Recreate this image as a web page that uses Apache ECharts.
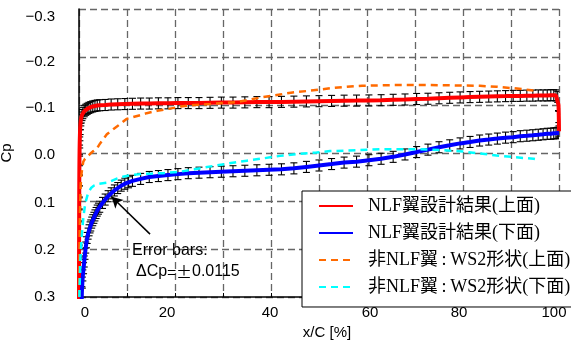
<!DOCTYPE html>
<html>
<head>
<meta charset="utf-8">
<script src="https://cdn.jsdelivr.net/npm/echarts@6/dist/echarts.min.js"></script>
<style>
html,body{margin:0;padding:0;background:#fff;}
#c{width:571px;height:345px;}
</style>
</head>
<body>
<div id="c"></div>
<script>
// ---- data (x/C [%], Cp) ----
const seriesNames = ['NLF翼設計結果(上面)', 'NLF翼設計結果(下面)', '非NLF翼\u2009:\u2009WS2形状(上面)', '非NLF翼\u2009:\u2009WS2形状(下面)'];
const errorHalf = 0.0115;
const xTicks = [0, 20, 40, 60, 80, 100];
const yTicks = [-0.3, -0.2, -0.1, 0.0, 0.1, 0.2, 0.3];

const nlfUpperX = [0, 0.002, 0.004, 0.007, 0.01, 0.014, 0.019, 0.025, 0.032, 0.04, 0.05, 0.062, 0.077, 0.095, 0.12, 0.15, 0.19, 0.24, 0.3, 0.38, 0.48, 0.616, 0.8, 1.093, 1.4, 1.704, 2.05, 2.447, 2.87, 3.321, 3.8, 4.323, 5.45, 6.699, 8.066, 9.549, 11.14, 12.84, 14.64, 16.54, 18.53, 20.61, 22.77, 25, 27.3, 29.66, 32.08, 34.55, 37.06, 39.6, 42.18, 44.77, 47.38, 50, 52.62, 55.23, 57.82, 60.4, 62.94, 65.45, 67.92, 70.34, 72.7, 75, 77.23, 79.39, 81.47, 83.46, 85.36, 87.16, 88.86, 90.45, 91.93, 93.3, 94.55, 95.68, 96.68, 97.55, 98.3, 98.91, 99.38, 99.73, 99.9, 99.96, 100];
const nlfUpperCp = [0.40, 0.31, 0.28, 0.255, 0.23, 0.205, 0.18, 0.155, 0.13, 0.105, 0.08, 0.057, 0.035, 0.015, -0.005, -0.022, -0.037, -0.05, -0.06, -0.068, -0.074, -0.079, -0.083, -0.087, -0.09, -0.092, -0.094, -0.0955, -0.097, -0.098, -0.099, -0.0995, -0.1, -0.101, -0.1015, -0.102, -0.1025, -0.103, -0.103, -0.1035, -0.1035, -0.104, -0.104, -0.104, -0.1045, -0.105, -0.105, -0.1055, -0.106, -0.106, -0.1065, -0.107, -0.1075, -0.108, -0.1085, -0.109, -0.1092, -0.1095, -0.11, -0.1108, -0.1115, -0.1125, -0.113, -0.114, -0.115, -0.1158, -0.1165, -0.117, -0.1175, -0.118, -0.1185, -0.119, -0.119, -0.1195, -0.1195, -0.12, -0.12, -0.12, -0.1205, -0.1205, -0.12, -0.117, -0.1, -0.075, -0.045];

const nlfLowerX = [0.01, 0.05, 0.1, 0.2, 0.3, 0.4, 0.5, 0.6, 0.7, 0.8, 0.95, 1.093, 1.25, 1.4, 1.55, 1.704, 1.9, 2.1, 2.3, 2.447, 2.65, 2.87, 3.1, 3.321, 3.56, 3.8, 4.05, 4.323, 4.9, 5.45, 6.07, 6.699, 7.37, 8.066, 8.8, 9.549, 10.33, 11.14, 12.84, 14.64, 16.54, 18.53, 20.61, 22.77, 25, 27.3, 29.66, 32.08, 34.55, 37.06, 39.6, 42.18, 44.77, 47.38, 50, 52.62, 55.23, 57.82, 60.4, 62.94, 65.45, 67.92, 70.34, 72.7, 75, 77.23, 79.39, 81.47, 83.46, 85.36, 87.16, 88.86, 90.45, 91.93, 93.3, 94.55, 95.68, 96.68, 97.55, 98.3, 98.91, 99.38, 99.73, 100];
const nlfLowerCp = [0.9, 0.7, 0.6, 0.48, 0.42, 0.37, 0.33, 0.29, 0.27, 0.255, 0.24, 0.226, 0.21, 0.197, 0.186, 0.177, 0.168, 0.161, 0.155, 0.151, 0.145, 0.14, 0.135, 0.13, 0.125, 0.12, 0.116, 0.112, 0.104, 0.097, 0.09, 0.084, 0.078, 0.073, 0.068, 0.064, 0.061, 0.058, 0.054, 0.05, 0.048, 0.046, 0.044, 0.042, 0.041, 0.04, 0.039, 0.038, 0.037, 0.036, 0.035, 0.034, 0.032, 0.029, 0.026, 0.023, 0.02, 0.018, 0.015, 0.012, 0.008, 0.003, -0.002, -0.007, -0.012, -0.016, -0.02, -0.023, -0.026, -0.028, -0.03, -0.032, -0.033, -0.035, -0.036, -0.037, -0.038, -0.039, -0.04, -0.04, -0.041, -0.041, -0.042, -0.042];

const ws2UpperX = [0, 0.05, 0.1, 0.2, 0.35, 0.5, 0.7, 0.9, 1.25, 1.9, 2.4, 3.0, 3.7, 4.4, 5.8, 7.2, 7.9, 9.9, 12.8, 14.1, 16.3, 19.8, 21.2, 24, 27.3, 30, 32.8, 35, 38, 41.9, 44.5, 47.4, 50, 52.5, 55.8, 59, 62.7, 66, 69.6, 73, 76.6, 80, 83.5, 87, 90.5, 92.5, 94.7, 95.5];
const ws2UpperCp = [0.4, 0.28, 0.2, 0.12, 0.067, 0.045, 0.03, 0.018, 0.012, 0.006, 0.001, -0.004, -0.009, -0.02, -0.039, -0.05, -0.055, -0.071, -0.079, -0.083, -0.088, -0.094, -0.097, -0.1, -0.102, -0.104, -0.106, -0.11, -0.116, -0.122, -0.126, -0.129, -0.132, -0.135, -0.138, -0.14, -0.141, -0.1415, -0.1415, -0.1415, -0.141, -0.1405, -0.14, -0.138, -0.135, -0.133, -0.13, -0.129];

const ws2LowerX = [0, 0.1, 0.3, 0.55, 0.9, 1.3, 1.9, 2.5, 3.1, 4.2, 5.8, 6.6, 8, 9.4, 11, 12.8, 15, 17.5, 19.8, 21, 24, 28, 31, 35, 38.5, 41.9, 45.5, 49.5, 52.3, 55.8, 60.6, 62.7, 67, 71, 75.5, 80, 83.5, 87, 91, 94.7, 95.2];
const ws2LowerCp = [0.35, 0.29, 0.22, 0.175, 0.135, 0.105, 0.083, 0.073, 0.068, 0.064, 0.062, 0.059, 0.053, 0.049, 0.046, 0.044, 0.043, 0.042, 0.04, 0.039, 0.034, 0.027, 0.022, 0.016, 0.011, 0.006, 0.002, -0.001, -0.004, -0.005, -0.007, -0.0077, -0.008, -0.0077, -0.006, -0.003, 0.001, 0.005, 0.009, 0.012, 0.013];

const arrowFrom = [14.8, 0.169];
const arrowTo = [6.8, 0.091];

// ---- build ----
const zip = (xs, ys) => xs.map((x, i) => [x, ys[i]]);
const upperData = zip(nlfUpperX, nlfUpperCp);
const lowerData = zip(nlfLowerX, nlfLowerCp);

function renderErr(params, api) {
  const x = api.value(0), y = api.value(1);
  const c = api.coord([x, y]);
  const t = api.coord([x, y - errorHalf]);
  const b = api.coord([x, y + errorHalf]);
  const w = 3.5;
  const st = { stroke: '#000', lineWidth: 1.1 };
  return {
    type: 'group',
    children: [
      { type: 'line', shape: { x1: c[0], y1: t[1], x2: c[0], y2: b[1] }, style: st },
      { type: 'line', shape: { x1: c[0] - w, y1: t[1], x2: c[0] + w, y2: t[1] }, style: st },
      { type: 'line', shape: { x1: c[0] - w, y1: b[1], x2: c[0] + w, y2: b[1] }, style: st }
    ]
  };
}

const chart = echarts.init(document.getElementById('c'), null, { renderer: 'canvas' });
const sans = "'Liberation Sans', Arial, sans-serif";
const serif = "'Liberation Serif', 'Noto Sans CJK JP', serif";

const gridLine = { show: true, showMinLine: true, showMaxLine: true, lineStyle: { color: '#666', width: 1.3, type: [7, 4] } };

// small label nudges seen in the original layout
const yShift = [8, 5, 3, 2, 2, 1, 0];        // px down, per yTicks
const xShift = [6, -8, -1, 3, -4, -5];       // px right, per xTicks
const yRich = {}, xRich = {};
yShift.forEach((s, i) => { yRich['y' + i] = { fontFamily: sans, fontSize: 15, color: '#000', padding: [2 * s, 0, 0, 0] }; });
xShift.forEach((s, i) => { xRich['x' + i] = { fontFamily: sans, fontSize: 15, color: '#000', padding: s >= 0 ? [0, 0, 0, 2 * s] : [0, -2 * s, 0, 0] }; });

chart.setOption({
  animation: false,
  backgroundColor: '#fff',
  grid: { left: 79, right: 12, top: 9, bottom: 48, containLabel: false, outerBoundsMode: 'none' },
  xAxis: {
    type: 'value', min: 0, max: 100, interval: 10,
    name: 'x/C [%]', nameLocation: 'middle', nameGap: 25,
    nameTextStyle: { fontFamily: sans, fontSize: 15, color: '#000', padding: [0, 0, 0, 16] },
    axisLine: { show: true, onZero: false, lineStyle: { color: '#000', width: 1.5 } },
    axisTick: { show: true, inside: true, length: 4, lineStyle: { color: '#000' } },
    axisLabel: {
      fontFamily: sans, fontSize: 15, color: '#000', margin: 8, hideOverlap: false,
      rich: xRich,
      formatter: v => {
        const i = xTicks.indexOf(v);
        return i >= 0 ? '{x' + i + '|' + v + '}' : '';
      }
    },
    splitLine: gridLine
  },
  yAxis: {
    type: 'value', inverse: true, min: -0.3, max: 0.3, interval: 0.1,
    name: 'Cp', nameLocation: 'middle', nameGap: 58, nameRotate: 90,
    nameTextStyle: { fontFamily: sans, fontSize: 15, color: '#000' },
    axisLine: { show: true, onZero: false, lineStyle: { color: '#000', width: 1.5 } },
    axisTick: { show: false },
    axisLabel: {
      fontFamily: sans, fontSize: 15, color: '#000', margin: 24,
      rich: yRich,
      formatter: v => {
        let bi = 0;
        yTicks.forEach((t, i) => { if (Math.abs(t - v) < Math.abs(yTicks[bi] - v)) bi = i; });
        const t = yTicks[bi];
        return '{y' + bi + '|' + (t < -1e-9 ? '\u2212' : '') + Math.abs(t).toFixed(1) + '}';
      }
    },
    splitLine: gridLine
  },
  legend: {
    show: true,
    data: seriesNames,
    orient: 'vertical',
    left: 302, top: 191,
    padding: [6, 40, 11, 16],
    itemWidth: 34, itemHeight: 14, itemGap: 9,
    backgroundColor: '#fff',
    borderColor: '#000', borderWidth: 1,
    itemStyle: { opacity: 0 },
    textStyle: { fontFamily: serif, fontSize: 18, color: '#000', lineHeight: 14, padding: [0, 0, 0, 10] }
  },
  graphic: [
    { type: 'text', left: 132, top: 243, style: { text: 'Error bars:', font: "16px 'Liberation Sans'", fill: '#000' }, z: 100 },
    { type: 'text', left: 136, top: 264, style: {
        text: '{a|ΔCp}{b|=±}{a|0.0115}',
        rich: {
          a: { fontFamily: 'Liberation Sans', fontSize: 16, fill: '#000' },
          b: { fontFamily: 'Noto Sans CJK JP', fontSize: 16, fill: '#000' }
        }
      }, z: 100 }
  ],
  series: [
    {
      name: 'errUpper', type: 'custom', renderItem: renderErr, data: upperData,
      encode: { x: 0, y: 1 }, clip: true, z: 2, silent: true
    },
    {
      name: 'errLower', type: 'custom', renderItem: renderErr, data: lowerData,
      encode: { x: 0, y: 1 }, clip: true, z: 2, silent: true
    },
    {
      name: seriesNames[0], type: 'line', data: upperData, showSymbol: false, symbol: 'none',
      lineStyle: { color: '#ff0000', width: 4 }, itemStyle: { color: '#ff0000' }, clip: true, z: 3
    },
    {
      name: seriesNames[1], type: 'line', data: lowerData, showSymbol: false, symbol: 'none',
      lineStyle: { color: '#0000ff', width: 4 }, itemStyle: { color: '#0000ff' }, clip: true, z: 3
    },
    {
      name: seriesNames[2], type: 'line', data: zip(ws2UpperX, ws2UpperCp), showSymbol: false, symbol: 'none',
      lineStyle: { color: '#ff6a00', width: 2.5, type: [7, 5] }, itemStyle: { color: '#ff6a00' }, clip: true, z: 4
    },
    {
      name: seriesNames[3], type: 'line', data: zip(ws2LowerX, ws2LowerCp), showSymbol: false, symbol: 'none',
      lineStyle: { color: '#00ffff', width: 2.5, type: [7, 5] }, itemStyle: { color: '#00ffff' }, clip: true, z: 4,
      markLine: {
        silent: true, symbol: ['none', 'arrow'], symbolSize: [9, 11],
        label: { show: false },
        lineStyle: { color: '#000', width: 1.5, type: 'solid' },
        data: [[{ coord: arrowFrom }, { coord: arrowTo }]]
      }
    }
  ]
});
</script>
</body>
</html>
